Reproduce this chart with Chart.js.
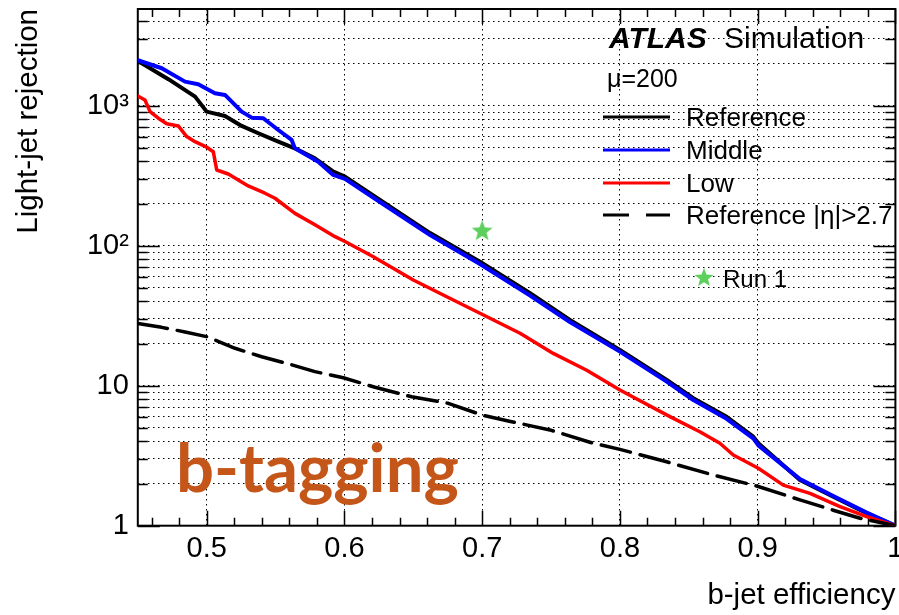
<!DOCTYPE html>
<html>
<head>
<meta charset="utf-8">
<script src="https://cdn.jsdelivr.net/npm/chart.js@4"></script>
<style>
  html, body { margin: 0; padding: 0; background: #fff; }
  #chart { display: block; }
</style>
</head>
<body>
<canvas id="chart" width="899" height="615"></canvas>
<script>
// Light-jet rejection vs b-jet efficiency, mu=200 layouts

const refEff = [0.45, 0.4722, 0.4916, 0.50, 0.5133, 0.5254, 0.5375, 0.552, 0.564, 0.5786, 0.592, 0.6004, 0.6258, 0.6622, 0.6984, 0.7348, 0.7637, 0.80, 0.834, 0.8533, 0.8775, 0.8968, 0.9005, 0.9307, 0.9549, 0.9791, 1.0];
const refRej = [2085, 1545, 1160, 906, 844, 716, 635, 553, 496, 421, 338, 311, 212, 123, 76.9, 45.7, 29.5, 18.0, 11.0, 8.13, 6.0, 4.32, 3.88, 2.12, 1.61, 1.23, 1.0];

const midEff = [0.45, 0.4674, 0.4843, 0.4939, 0.506, 0.5133, 0.5254, 0.5327, 0.5411, 0.552, 0.5617, 0.564, 0.581, 0.5919, 0.6004, 0.6258, 0.6622, 0.6984, 0.7348, 0.7637, 0.80, 0.834, 0.8533, 0.8775, 0.8968, 0.9005, 0.9307, 0.9549, 0.9791, 1.0];
const midRej = [2110, 1850, 1484, 1422, 1227, 1192, 906, 821, 813, 670, 569, 496, 398, 320, 300, 205, 119, 74, 44, 28.5, 17.5, 10.7, 7.9, 5.8, 4.2, 3.75, 2.15, 1.63, 1.24, 1.0];

const lowEff = [0.45, 0.4552, 0.4589, 0.4649, 0.471, 0.4794, 0.4855, 0.4915, 0.50, 0.5048, 0.5073, 0.5157, 0.5302, 0.5423, 0.5496, 0.5641, 0.5786, 0.5932, 0.6004, 0.621, 0.65, 0.6743, 0.6984, 0.7275, 0.7516, 0.7759, 0.80, 0.8363, 0.858, 0.8726, 0.8823, 0.9005, 0.9186, 0.938, 0.9598, 0.9791, 1.0];
const lowRej = [1173, 1097, 906, 813, 742, 716, 601, 553, 505, 469, 347, 325, 267, 237, 218, 170, 141, 116, 107, 83.4, 56.9, 43.2, 32.9, 23.7, 17.0, 12.9, 9.31, 6.01, 4.69, 3.88, 3.2, 2.57, 1.95, 1.70, 1.37, 1.16, 1.0];

const fwdEff = [0.45, 0.4673, 0.4843, 0.50, 0.5206, 0.54, 0.5617, 0.5786, 0.5992, 0.6222, 0.6488, 0.6754, 0.6997, 0.7214, 0.7492, 0.7807, 0.80, 0.8339, 0.8678, 0.8993, 0.9307, 0.9549, 0.9743, 1.0];
const fwdRej = [27.8, 26.1, 24.2, 22.4, 18.5, 16.1, 14.1, 12.6, 11.4, 9.75, 8.34, 7.48, 6.18, 5.53, 4.83, 3.88, 3.51, 2.86, 2.30, 1.92, 1.53, 1.29, 1.13, 1.0];

const run1Eff = [0.70];
const run1Rej = [129];

const xMajor = [0.5, 0.6, 0.7, 0.8, 0.9, 1.0];
const yDecades = [1, 10, 100, 1000];
const yDecadeLabels = ['1', '10', '10²', '10³'];

const X_MIN = 0.45, X_MAX = 1.0;
const Y_MIN = 1, Y_MAX = 4900;

const FONT = '"Liberation Sans", Arial, Helvetica, sans-serif';
const STAR_GREEN = '#5ccf5c';

function toPoints(xs, ys) {
    return xs.map((x, i) => ({ x: x, y: ys[i] }));
}

// every 1..9 x decade inside the y range
function logTickValues() {
    const out = [];
    yDecades.forEach(d => {
        for (let m = 1; m <= 9; m++) {
            const v = m * d;
            if (v <= Y_MAX) out.push(v);
        }
    });
    return out;
}

// x minor ticks every 0.02
function xMinorValues() {
    const out = [];
    for (let k = 23; k <= 50; k++) out.push(k / 50);
    return out;
}

function starPath(ctx, cx, cy, r) {
    const ri = r * 0.42;
    ctx.beginPath();
    for (let i = 0; i < 10; i++) {
        const a = -Math.PI / 2 + i * Math.PI / 5;
        const rr = (i % 2) ? ri : r;
        ctx.lineTo(cx + rr * Math.cos(a), cy + rr * Math.sin(a));
    }
    ctx.closePath();
}

function makeStarImage(r, color) {
    const c = document.createElement('canvas');
    c.width = Math.ceil(2 * r + 2);
    c.height = Math.ceil(2 * r + 2);
    const g = c.getContext('2d');
    starPath(g, c.width / 2, c.height / 2 + r * 0.1, r);
    g.fillStyle = color;
    g.fill();
    return c;
}

const starImg = makeStarImage(11, STAR_GREEN);

// frame and inward ticks on all four sides
const frameTicks = {
    id: 'frameTicks',
    beforeDatasetsDraw(chart) {
        const { ctx, chartArea: a, scales: { x, y } } = chart;
        ctx.save();
        ctx.strokeStyle = '#000';
        ctx.lineWidth = 1.5;
        ctx.beginPath();
        logTickValues().forEach(v => {
            const py = Math.round(y.getPixelForValue(v)) + 0.5;
            const len = yDecades.includes(v) ? 22 : 10;
            ctx.moveTo(a.left, py); ctx.lineTo(a.left + len, py);
            ctx.moveTo(a.right, py); ctx.lineTo(a.right - len, py);
        });
        xMinorValues().forEach(v => {
            const px = Math.round(x.getPixelForValue(v)) + 0.5;
            const len = (Math.round(v * 50) % 5 === 0) ? 15 : 8;
            ctx.moveTo(px, a.bottom); ctx.lineTo(px, a.bottom - len);
            ctx.moveTo(px, a.top); ctx.lineTo(px, a.top + len);
        });
        ctx.stroke();
        ctx.lineWidth = 2;
        ctx.strokeRect(a.left, a.top, a.right - a.left, a.bottom - a.top);
        ctx.restore();
    }
};

// ATLAS label, legend box and b-tagging tag
const annotations = {
    id: 'annotations',
    afterDraw(chart) {
        const ctx = chart.ctx;
        ctx.save();
        ctx.fillStyle = '#000';
        ctx.textBaseline = 'alphabetic';
        ctx.textAlign = 'left';

        ctx.font = 'italic bold 30px ' + FONT;
        ctx.fillText('ATLAS', 609, 48);
        ctx.font = '30px ' + FONT;
        ctx.fillText('Simulation', 724, 48);

        ctx.font = '25px ' + FONT;
        ctx.fillText('μ=200', 607, 87);

        const rows = [
            { label: 'Reference', color: '#000', dash: [], y: 117 },
            { label: 'Middle', color: '#0000ff', dash: [], y: 150 },
            { label: 'Low', color: '#ff0000', dash: [], y: 183 },
            { label: 'Reference |η|>2.7', color: '#000', dash: [26, 17], y: 215 }
        ];
        rows.forEach(r => {
            ctx.save();
            ctx.strokeStyle = r.color;
            ctx.lineWidth = 3;
            ctx.setLineDash(r.dash);
            ctx.beginPath();
            ctx.moveTo(603, r.y);
            ctx.lineTo(670, r.y);
            ctx.stroke();
            ctx.restore();
            ctx.font = '26px ' + FONT;
            ctx.fillStyle = '#000';
            ctx.fillText(r.label, 686, r.y + 9);
        });

        starPath(ctx, 704, 278, 10);
        ctx.fillStyle = STAR_GREEN;
        ctx.fill();
        ctx.fillStyle = '#000';
        ctx.font = '24px ' + FONT;
        ctx.fillText('Run 1', 723, 287);

        ctx.fillStyle = '#c4561a';
        ctx.font = 'bold 67px Lato, "Open Sans", sans-serif';
        ctx.fillText('b-tagging', 176, 492);
        ctx.restore();
    }
};

const ctx = document.getElementById('chart').getContext('2d');
new Chart(ctx, {
    type: 'scatter',
    data: {
        datasets: [
            {
                label: 'Reference |η|>2.7',
                data: toPoints(fwdEff, fwdRej),
                borderColor: '#000',
                borderWidth: 3.5,
                borderDash: [30, 10],
                order: 0
            },
            {
                label: 'Low',
                data: toPoints(lowEff, lowRej),
                borderColor: '#ff0000',
                borderWidth: 3.5,
                order: 1
            },
            {
                label: 'Middle',
                data: toPoints(midEff, midRej),
                borderColor: '#0000ff',
                borderWidth: 4,
                order: 2
            },
            {
                label: 'Reference',
                data: toPoints(refEff, refRej),
                borderColor: '#000',
                borderWidth: 4,
                order: 3
            },
            {
                label: 'Run 1',
                data: toPoints(run1Eff, run1Rej),
                showLine: false,
                pointStyle: starImg,
                pointRadius: 11,
                order: 4
            }
        ].map(d => Object.assign({
            showLine: true,
            pointRadius: 0,
            tension: 0,
            fill: false,
            borderCapStyle: 'round',
            borderJoinStyle: 'round'
        }, d))
    },
    options: {
        responsive: false,
        animation: false,
        layout: {
            autoPadding: false,
            padding: { left: 0, right: 3.6, top: 9, bottom: 0 }
        },
        plugins: {
            legend: { display: false },
            tooltip: { enabled: false },
            title: { display: false }
        },
        scales: {
            x: {
                type: 'linear',
                min: X_MIN,
                max: X_MAX,
                afterBuildTicks: s => { s.ticks = xMajor.map(v => ({ value: v })); },
                afterFit: s => {
                    s.height = 89.3;
                    s.paddingLeft = 0;
                    s.paddingRight = 0;
                },
                grid: { color: '#000', lineWidth: 1, drawTicks: false },
                border: { display: false, dash: [1.5, 3.5] },
                ticks: {
                    autoSkip: false,
                    maxRotation: 0,
                    padding: 6,
                    color: '#000',
                    font: { family: FONT, size: 29 },
                    callback: v => (v === 1 ? '1' : v.toFixed(1))
                },
                title: {
                    display: true,
                    text: 'b-jet efficiency',
                    align: 'end',
                    color: '#000',
                    font: { family: FONT, size: 29.5 },
                    padding: { top: 0, bottom: 1 }
                }
            },
            y: {
                type: 'logarithmic',
                min: Y_MIN,
                max: Y_MAX,
                afterBuildTicks: s => { s.ticks = logTickValues().map(v => ({ value: v })); },
                afterFit: s => {
                    s.width = 137.8;
                    s.paddingTop = 0;
                    s.paddingBottom = 0;
                },
                grid: { color: '#000', lineWidth: 1, drawTicks: false },
                border: { display: false, dash: [1.5, 3.5] },
                ticks: {
                    autoSkip: false,
                    padding: 9,
                    color: '#000',
                    font: { family: FONT, size: 29 },
                    callback: v => {
                        const i = yDecades.indexOf(v);
                        return i >= 0 ? yDecadeLabels[i] : '';
                    }
                },
                title: {
                    display: true,
                    text: 'Light-jet rejection',
                    align: 'end',
                    color: '#000',
                    font: { family: FONT, size: 29.5 },
                    padding: { top: 11, bottom: 0 }
                }
            }
        }
    },
    plugins: [frameTicks, annotations]
});
</script>
</body>
</html>
